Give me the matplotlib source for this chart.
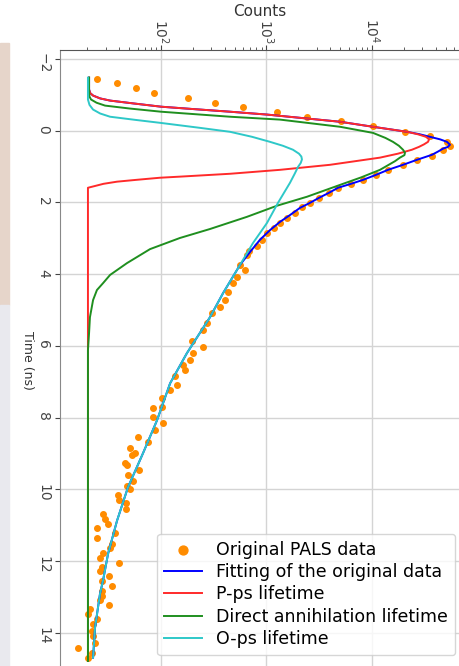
import matplotlib
matplotlib.use("Agg")
import matplotlib.pyplot as plt
from matplotlib.patches import Rectangle

# PALS data: time (ns) and counts
data_t = [-1.45, -1.34, -1.20, -1.06, -0.92, -0.78, -0.67, -0.53, -0.39, -0.28,
          -0.14, 0.03, 0.14, 0.31, 0.42, 0.53, 0.70, 0.81, 0.95, 1.09,
          1.23, 1.37, 1.48, 1.59, 1.73, 1.87, 2.01, 2.12, 2.29, 2.43,
          2.57, 2.71, 2.85, 3.04, 3.21, 3.35, 3.46, 3.74, 3.88, 4.08,
          4.25, 4.50, 4.72, 4.92, 5.08, 5.36, 5.56, 5.87, 6.03, 6.20,
          6.40, 6.54, 6.68, 6.84, 7.09, 7.23, 7.46, 7.71, 7.74, 7.99,
          8.16, 8.35, 8.55, 8.69, 8.83, 8.97, 9.05, 9.25, 9.33, 9.47,
          9.61, 9.75, 9.89, 10.00, 10.14, 10.28, 10.39, 10.53, 10.67, 10.81,
          10.95, 11.06, 11.20, 11.34, 11.51, 11.62, 11.76, 11.90, 12.04, 12.15,
          12.26, 12.40, 12.54, 12.68, 12.82, 12.96, 13.07, 13.21, 13.32, 13.46,
          13.60, 13.74, 13.94, 14.08, 14.27, 14.41, 14.55, 14.69]
data_c = [24.7, 38.3, 58, 86, 180, 325, 599, 1259, 2421, 5082,
          10210, 20550, 35480, 51400, 54830, 47100, 37070, 26720, 19680, 14190,
          10910, 8220, 6320, 4764, 3910, 3148, 2583, 2168, 1862, 1563,
          1343, 1178, 1011, 906, 813, 682, 653, 561, 625, 525,
          481, 432, 404, 362, 304, 273, 250, 197, 250, 201,
          188, 162, 169, 136, 142, 122, 102, 102, 84, 84,
          104, 88, 60.5, 75, 51, 56.7, 53, 45.6, 47.6, 61.8,
          48.6, 54.3, 47.6, 51, 39.1, 40, 46.6, 46.6, 28.2, 29.4,
          31.5, 24.7, 36.6, 24.7, 34.3, 32.9, 28.2, 26.4, 40, 27.6,
          26.4, 32.1, 27.6, 34.3, 27.6, 27.6, 26.4, 32.1, 21.2, 20.3,
          24.7, 22.7, 22.2, 22.7, 23.7, 16.3, 22.2, 20.3]

fit_t = [-1.48, -1.15, -1.05, -0.98, -0.90, -0.84, -0.76, -0.67, -0.60, -0.53,
         -0.45, -0.25, -0.11, 0.03, 0.10, 0.17, 0.24, 0.31, 0.39, 0.45,
         0.50, 0.58, 0.67, 0.81, 0.95, 1.09, 1.23, 1.37,
         1.48, 1.59, 1.73, 1.87, 2.01, 2.15, 2.35, 2.54, 2.77, 3.04,
         3.38, 3.74, 4.53, 5.20, 6.20, 7.04, 8.07, 8.99, 9.94, 10.87,
         11.79, 12.54, 12.91, 13.85, 14.69]
fit_c = [20.8, 20.8, 21.3, 22.7, 26.5, 32.9, 55, 100, 210, 451,
         1011, 4977, 10210, 21480, 28500, 35480, 44160, 51400, 54830, 52500,
         47100, 42300, 37070, 26720, 19680, 14190, 10910, 8220,
         6320, 4764, 3910, 3148, 2583, 2078, 1671, 1343, 1080, 867,
         698, 561, 387, 291, 176, 122, 91.7, 67.5, 48.6, 38.3,
         31.5, 28.2, 26.4, 23.7, 22.7]

pps_t = [-1.48, -1.15, -1.05, -0.98, -0.90, -0.84, -0.76, -0.67, -0.60, -0.53,
         -0.45, -0.25, -0.11, 0.03, 0.10, 0.17, 0.24, 0.31, 0.38, 0.45,
         0.53, 0.64, 0.75, 0.95, 1.09, 1.20, 1.28, 1.31, 1.37, 1.42,
         1.48, 1.54, 1.59, 14.78]
pps_c = [20.8, 20.8, 21.3, 22.7, 26.5, 32.9, 55, 100, 210, 451,
         1011, 4977, 10210, 21480, 27300, 32450, 34770, 33960, 31110, 27900,
         23900, 17600, 11910, 4000, 1343, 451, 151, 98, 58, 38.3,
         28.5, 23.7, 20.3, 20.3]

direct_t = [-1.48, -1.09, -0.95, -0.87, -0.78, -0.70, -0.62, -0.53, -0.39, -0.31,
            -0.11, 0.06, 0.20, 0.31, 0.42, 0.53, 0.61, 0.68, 0.75, 0.85,
            0.95, 1.09, 1.30, 1.51, 1.84, 2.09, 2.40, 2.74, 2.99,
            3.30, 3.69, 4.02, 4.25, 4.44, 4.72, 5.20, 5.64, 6.12, 14.78]
direct_c = [20.8, 20.8, 21.0, 21.7, 24.5, 29.5, 50, 100, 451, 1343,
            4977, 10210, 13400, 15810, 18000, 19680, 20550, 20300, 18410, 16500,
            14400, 11910, 7900, 4977, 2421, 1259, 653, 291, 151,
            78.7, 47.6, 32.9, 28.2, 24.7, 22.7, 21.2, 20.8, 20.3, 20.3]

ops_t = [-1.48, -0.87, -0.72, -0.59, -0.48, -0.39, -0.30, -0.22, -0.08, 0.03,
         0.17, 0.31, 0.42, 0.53, 0.64, 0.72, 0.80, 0.90, 1.01, 1.20,
         1.45, 2.01, 2.57, 3.13, 3.74, 4.53, 5.20, 6.20, 7.04,
         8.07, 8.99, 9.94, 10.87, 11.79, 12.54, 12.91, 13.85, 14.69]
ops_c = [20.3, 20.3, 21.0, 22.7, 26.5, 32.9, 58, 98, 234, 451,
         730, 1080, 1432, 1782, 2032, 2140, 2168, 2110, 1989, 1850,
         1671, 1285, 1011, 745, 561, 387, 291, 176, 122,
         91.7, 67.5, 48.6, 38.3, 31.5, 28.2, 26.4, 23.7, 22.7]

time_ticks = [-2, 0, 2, 4, 6, 8, 10, 12, 14]

fig = plt.figure(figsize=(4.59, 6.66), dpi=100)

# strip of another picture at the left edge
fig.patches.append(Rectangle((0, 1 - 305/666), 9/459, 262/666, transform=fig.transFigure,
                             color="#e6d5ca", zorder=0))
fig.patches.append(Rectangle((0, 0), 9/459, 1 - 305/666, transform=fig.transFigure,
                             color="#e9e9ee", zorder=0))

ax = fig.add_axes([60/459, 0, 399/459, 616/666])
ax.set_xscale("log")
ax.xaxis.tick_top()
ax.xaxis.set_label_position("top")

ax.scatter(data_c, data_t, s=16, color="darkorange", label="Original PALS data", zorder=2)
ax.plot(fit_c, fit_t, color="blue", lw=1.4, label="Fitting of the original data", zorder=3)
ax.plot(pps_c, pps_t, color="#ff2a2a", lw=1.4, label="P-ps lifetime", zorder=3)
ax.plot(direct_c, direct_t, color="#1f8f1f", lw=1.4, label="Direct annihilation lifetime", zorder=3)
ax.plot(ops_c, ops_t, color="#2ec8c8", lw=1.4, label="O-ps lifetime", zorder=3)

ax.set_xlim(11.03, 66800)
ax.set_ylim(14.92, -2.25)
ax.set_yticks(time_ticks)
ax.grid(True, which="major", color="#d4d4d4", lw=1)
ax.set_axisbelow(True)

ax.tick_params(axis="x", which="both", labelrotation=-90, labelsize=10, colors="#444444", pad=1)
ax.tick_params(axis="y", labelrotation=-90, labelsize=10, colors="#444444")
ax.spines["bottom"].set_visible(False)
ax.spines["right"].set_visible(False)
ax.spines["top"].set_color("#555555")
ax.spines["left"].set_color("#888888")

ax.set_xlabel("Counts", fontsize=11, color="#333333", labelpad=2)
fig.text(27/459, 1 - 360/666, "Time (ns)", rotation=-90, ha="center", va="center",
         fontsize=9, color="#333333")

ax.legend(loc="lower right", bbox_to_anchor=(455/459, 11/666), bbox_transform=fig.transFigure,
          fontsize=12.5, markerscale=1.6, handlelength=2.2, labelspacing=0.25, borderaxespad=0)

fig.savefig("out.png", dpi=100)
